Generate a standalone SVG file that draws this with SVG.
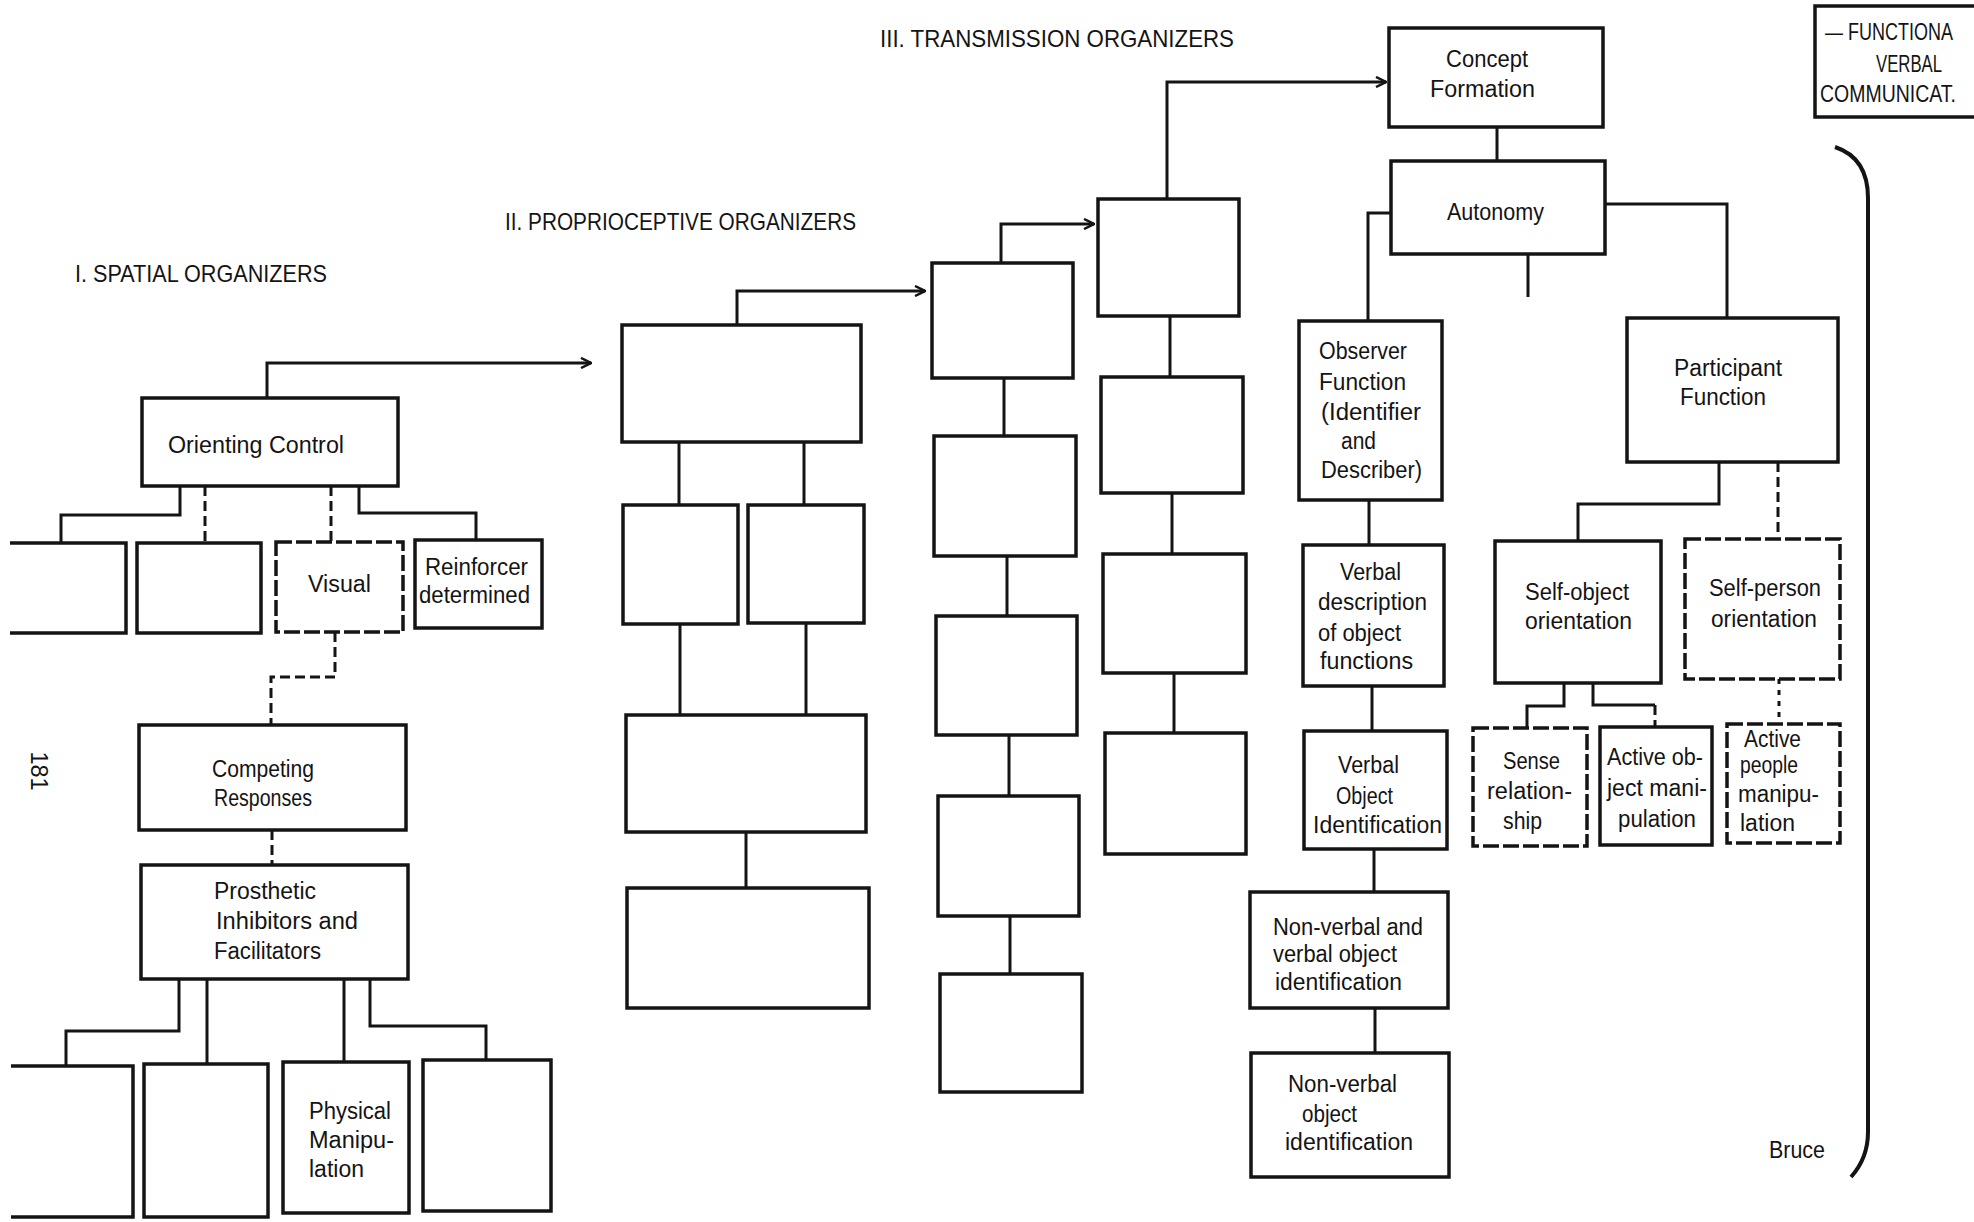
<svg xmlns="http://www.w3.org/2000/svg" width="1974" height="1222" viewBox="0 0 1974 1222">
<style>
.bg{fill:#fff}
.box{fill:none;stroke:#141414;stroke-width:3.5;stroke-linejoin:miter}
.dbox{stroke-dasharray:16 4}
.ln{fill:none;stroke:#141414;stroke-width:3}
.dash{stroke-dasharray:10 5}
.dot{stroke-dasharray:5 6}
.arr{marker-end:url(#ah)}
text{font-family:"Liberation Sans",Arial,sans-serif;font-size:23.5px;fill:#141414}
.ttl{font-size:24px}
</style>
<defs>
<marker id="ah" viewBox="0 0 12 12" refX="11" refY="6" markerWidth="12" markerHeight="12" markerUnits="userSpaceOnUse" orient="auto">
<path d="M1,1 L11,6 L1,11" fill="none" stroke="#141414" stroke-width="2.5"/>
</marker>
</defs>
<rect class="bg" x="0" y="0" width="1974" height="1222"/>

<g id="titles">
<text class="ttl" x="75" y="282" textLength="252" lengthAdjust="spacingAndGlyphs">I. SPATIAL ORGANIZERS</text>
<text class="ttl" x="505" y="230" textLength="351" lengthAdjust="spacingAndGlyphs">II. PROPRIOCEPTIVE ORGANIZERS</text>
<text class="ttl" x="880" y="47" textLength="354" lengthAdjust="spacingAndGlyphs">III. TRANSMISSION ORGANIZERS</text>
<text x="0" y="0" font-size="29" text-anchor="middle" transform="translate(31,771) rotate(90)">181</text>
<text x="1769" y="1158" textLength="56" lengthAdjust="spacingAndGlyphs">Bruce</text>
</g>

<g id="connectors">
<!-- section I -->
<path class="ln arr" d="M267,398 V363 H591"/>
<path class="ln" d="M180,486 V515 H61 V543"/>
<path class="ln dash" d="M205,486 V543"/>
<path class="ln dash" d="M331,486 V542"/>
<path class="ln" d="M359,486 V513 H476 V540"/>
<path class="ln dash" d="M335,632 V677 H271 V725"/>
<path class="ln dash" d="M272,830 V865"/>
<path class="ln" d="M179,979 V1031 H66 V1066"/>
<path class="ln" d="M207,979 V1064"/>
<path class="ln" d="M344,979 V1062"/>
<path class="ln" d="M370,979 V1026 H486 V1060"/>
<!-- section II -->
<path class="ln arr" d="M737,325 V291 H925"/>
<path class="ln" d="M679,442 V505"/>
<path class="ln" d="M804,442 V505"/>
<path class="ln" d="M680,624 V715"/>
<path class="ln" d="M806,623 V715"/>
<path class="ln" d="M746,832 V888"/>
<path class="ln arr" d="M1001,263 V224 H1094"/>
<path class="ln" d="M1004,378 V436"/>
<path class="ln" d="M1007,556 V616"/>
<path class="ln" d="M1009,735 V796"/>
<path class="ln" d="M1010,916 V974"/>
<!-- section III -->
<path class="ln arr" d="M1167,199 V82 H1386"/>
<path class="ln" d="M1170,316 V377"/>
<path class="ln" d="M1172,493 V554"/>
<path class="ln" d="M1174,673 V733"/>
<path class="ln" d="M1497,127 V161"/>
<path class="ln" d="M1391,213 H1368 V321"/>
<path class="ln" d="M1528,254 V297"/>
<path class="ln" d="M1605,204 H1727 V318"/>
<path class="ln" d="M1369,500 V545"/>
<path class="ln" d="M1372,686 V731"/>
<path class="ln" d="M1374,849 V892"/>
<path class="ln" d="M1375,1008 V1053"/>
<path class="ln" d="M1719,462 V504 H1578 V541"/>
<path class="ln dash" d="M1778,462 V537"/>
<path class="ln" d="M1564,683 V706 H1527 V728"/>
<path class="ln" d="M1593,683 V705 H1655"/>
<path class="ln dash" d="M1655,705 V727"/>
<path class="ln dot" d="M1779,679 V724"/>
<!-- bracket -->
<path class="ln" style="stroke-width:4" d="M1835,147 Q1868,158 1868,198 V1132 Q1868,1158 1851,1177"/>
</g>

<g id="n-orienting"><rect class="box" x="142" y="398" width="256" height="88"/><text x="168" y="453" textLength="176" lengthAdjust="spacingAndGlyphs">Orienting Control</text></g>
<g id="n-s1a"><path class="box" d="M10,543 H126 V633 H10"/></g>
<g id="n-s1b"><rect class="box" x="137" y="543" width="124" height="90"/></g>
<g id="n-visual"><rect class="box dbox" x="276" y="542" width="127" height="90"/><text x="308" y="592" textLength="63" lengthAdjust="spacingAndGlyphs">Visual</text></g>
<g id="n-reinforcer"><rect class="box" x="415" y="540" width="127" height="88"/><text x="425" y="575" textLength="103" lengthAdjust="spacingAndGlyphs">Reinforcer</text><text x="419" y="603" textLength="111" lengthAdjust="spacingAndGlyphs">determined</text></g>
<g id="n-competing"><rect class="box" x="139" y="725" width="267" height="105"/><text x="212" y="777" textLength="102" lengthAdjust="spacingAndGlyphs">Competing</text><text x="214" y="806" textLength="98" lengthAdjust="spacingAndGlyphs">Responses</text></g>
<g id="n-prosthetic"><rect class="box" x="141" y="865" width="267" height="114"/><text x="214" y="899" textLength="102" lengthAdjust="spacingAndGlyphs">Prosthetic</text><text x="216" y="929" textLength="142" lengthAdjust="spacingAndGlyphs">Inhibitors and</text><text x="214" y="959" textLength="107" lengthAdjust="spacingAndGlyphs">Facilitators</text></g>
<g id="n-s1c"><path class="box" d="M11,1066 H133 V1217 H11"/></g>
<g id="n-s1d"><rect class="box" x="144" y="1064" width="124" height="153"/></g>
<g id="n-physical"><rect class="box" x="283" y="1062" width="126" height="151"/><text x="309" y="1119" textLength="82" lengthAdjust="spacingAndGlyphs">Physical</text><text x="309" y="1148" textLength="85" lengthAdjust="spacingAndGlyphs">Manipu-</text><text x="309" y="1177" textLength="55" lengthAdjust="spacingAndGlyphs">lation</text></g>
<g id="n-s1e"><rect class="box" x="423" y="1060" width="128" height="151"/></g>

<g id="n-p1"><rect class="box" x="622" y="325" width="239" height="117"/></g>
<g id="n-p2"><rect class="box" x="623" y="505" width="115" height="119"/></g>
<g id="n-p3"><rect class="box" x="748" y="505" width="116" height="118"/></g>
<g id="n-p4"><rect class="box" x="626" y="715" width="240" height="117"/></g>
<g id="n-p5"><rect class="box" x="627" y="888" width="242" height="120"/></g>
<g id="n-q1"><rect class="box" x="932" y="263" width="141" height="115"/></g>
<g id="n-q2"><rect class="box" x="934" y="436" width="142" height="120"/></g>
<g id="n-q3"><rect class="box" x="936" y="616" width="141" height="119"/></g>
<g id="n-q4"><rect class="box" x="938" y="796" width="141" height="120"/></g>
<g id="n-q5"><rect class="box" x="940" y="974" width="142" height="118"/></g>

<g id="n-r1"><rect class="box" x="1098" y="199" width="141" height="117"/></g>
<g id="n-r2"><rect class="box" x="1101" y="377" width="142" height="116"/></g>
<g id="n-r3"><rect class="box" x="1103" y="554" width="143" height="119"/></g>
<g id="n-r4"><rect class="box" x="1105" y="733" width="141" height="121"/></g>

<g id="n-concept"><rect class="box" x="1389" y="28" width="214" height="99"/><text x="1446" y="67" textLength="82" lengthAdjust="spacingAndGlyphs">Concept</text><text x="1430" y="97" textLength="105" lengthAdjust="spacingAndGlyphs">Formation</text></g>
<g id="n-autonomy"><rect class="box" x="1391" y="161" width="214" height="93"/><text x="1447" y="220" textLength="97" lengthAdjust="spacingAndGlyphs">Autonomy</text></g>
<g id="n-observer"><rect class="box" x="1299" y="321" width="143" height="179"/><text x="1319" y="359" textLength="88" lengthAdjust="spacingAndGlyphs">Observer</text><text x="1319" y="390" textLength="87" lengthAdjust="spacingAndGlyphs">Function</text><text x="1321" y="420" textLength="100" lengthAdjust="spacingAndGlyphs">(Identifier</text><text x="1341" y="449" textLength="35" lengthAdjust="spacingAndGlyphs">and</text><text x="1321" y="478" textLength="101" lengthAdjust="spacingAndGlyphs">Describer)</text></g>
<g id="n-verbaldesc"><rect class="box" x="1303" y="545" width="141" height="141"/><text x="1340" y="580" textLength="61" lengthAdjust="spacingAndGlyphs">Verbal</text><text x="1318" y="610" textLength="109" lengthAdjust="spacingAndGlyphs">description</text><text x="1318" y="641" textLength="83" lengthAdjust="spacingAndGlyphs">of object</text><text x="1320" y="669" textLength="93" lengthAdjust="spacingAndGlyphs">functions</text></g>
<g id="n-verbalobj"><rect class="box" x="1304" y="731" width="143" height="118"/><text x="1338" y="773" textLength="61" lengthAdjust="spacingAndGlyphs">Verbal</text><text x="1336" y="804" textLength="57" lengthAdjust="spacingAndGlyphs">Object</text><text x="1313" y="833" textLength="129" lengthAdjust="spacingAndGlyphs">Identification</text></g>
<g id="n-nonverbalverbal"><rect class="box" x="1250" y="892" width="198" height="116"/><text x="1273" y="935" textLength="150" lengthAdjust="spacingAndGlyphs">Non-verbal and</text><text x="1273" y="962" textLength="124" lengthAdjust="spacingAndGlyphs">verbal object</text><text x="1275" y="990" textLength="127" lengthAdjust="spacingAndGlyphs">identification</text></g>
<g id="n-nonverbal"><rect class="box" x="1251" y="1053" width="198" height="124"/><text x="1288" y="1092" textLength="109" lengthAdjust="spacingAndGlyphs">Non-verbal</text><text x="1302" y="1122" textLength="55" lengthAdjust="spacingAndGlyphs">object</text><text x="1285" y="1150" textLength="128" lengthAdjust="spacingAndGlyphs">identification</text></g>
<g id="n-participant"><rect class="box" x="1627" y="318" width="211" height="144"/><text x="1674" y="376" textLength="108" lengthAdjust="spacingAndGlyphs">Participant</text><text x="1680" y="405" textLength="86" lengthAdjust="spacingAndGlyphs">Function</text></g>
<g id="n-selfobject"><rect class="box" x="1495" y="541" width="166" height="142"/><text x="1525" y="600" textLength="104" lengthAdjust="spacingAndGlyphs">Self-object</text><text x="1525" y="629" textLength="107" lengthAdjust="spacingAndGlyphs">orientation</text></g>
<g id="n-selfperson"><rect class="box dbox" x="1685" y="539" width="155" height="140"/><text x="1709" y="596" textLength="112" lengthAdjust="spacingAndGlyphs">Self-person</text><text x="1711" y="627" textLength="106" lengthAdjust="spacingAndGlyphs">orientation</text></g>
<g id="n-sense"><rect class="box dbox" x="1473" y="728" width="114" height="118"/><text x="1503" y="769" textLength="57" lengthAdjust="spacingAndGlyphs">Sense</text><text x="1487" y="799" textLength="85" lengthAdjust="spacingAndGlyphs">relation-</text><text x="1503" y="829" textLength="39" lengthAdjust="spacingAndGlyphs">ship</text></g>
<g id="n-activeobj"><rect class="box" x="1600" y="727" width="112" height="118"/><text x="1607" y="765" textLength="96" lengthAdjust="spacingAndGlyphs">Active ob-</text><text x="1607" y="796" textLength="100" lengthAdjust="spacingAndGlyphs">ject mani-</text><text x="1618" y="827" textLength="78" lengthAdjust="spacingAndGlyphs">pulation</text></g>
<g id="n-activepeople"><rect class="box dbox" x="1727" y="724" width="113" height="119"/><text x="1744" y="747" textLength="57" lengthAdjust="spacingAndGlyphs">Active</text><text x="1740" y="773" textLength="58" lengthAdjust="spacingAndGlyphs">people</text><text x="1738" y="802" textLength="81" lengthAdjust="spacingAndGlyphs">manipu-</text><text x="1740" y="831" textLength="55" lengthAdjust="spacingAndGlyphs">lation</text></g>
<g id="n-functional"><path class="box" d="M1974,6 H1815 V117 H1974"/><text x="1825" y="40" font-size="21" textLength="128" lengthAdjust="spacingAndGlyphs">— FUNCTIONA</text><text x="1876" y="72" font-size="22" textLength="66" lengthAdjust="spacingAndGlyphs">VERBAL</text><text x="1820" y="102" font-size="21" textLength="136" lengthAdjust="spacingAndGlyphs">COMMUNICAT.</text></g>
</svg>
